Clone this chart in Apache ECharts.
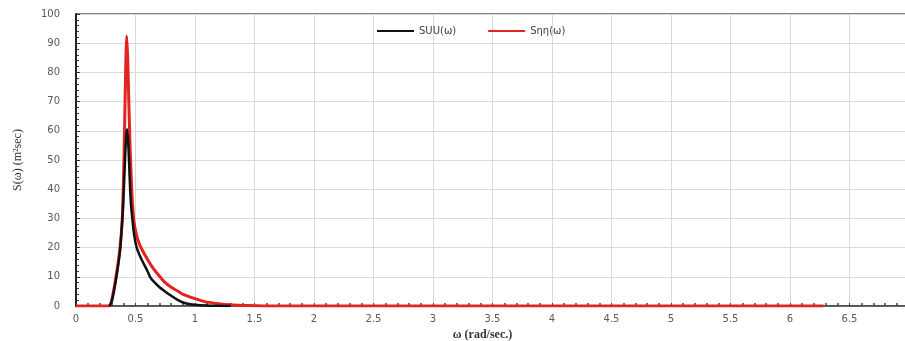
<!DOCTYPE html>
<html>
<head>
<meta charset="utf-8">
<script src="https://cdn.jsdelivr.net/npm/echarts@6/dist/echarts.min.js"></script>
<style>
  html, body { margin: 0; padding: 0; background: #fff; }
  #chart { width: 905px; height: 341px; }
</style>
</head>
<body>
<div id="chart"></div>
<script>
// Spectral densities S(ω) against angular frequency ω (rad/sec.)
const omegaSuu = [0.28, 0.30, 0.336, 0.37, 0.39, 0.40, 0.41, 0.42, 0.43, 0.44, 0.45, 0.46, 0.473, 0.49, 0.51, 0.55, 0.60, 0.622, 0.65, 0.70, 0.748, 0.80, 0.85, 0.90, 0.95, 1.00, 1.10, 1.20, 1.30];
const valuesSuu = [0, 1.5, 9, 19, 30, 38, 48, 57, 60.5, 55, 45, 36, 30, 24, 20, 16, 12, 10, 8.5, 6.5, 5, 3.5, 2.2, 1.2, 0.7, 0.4, 0.15, 0.05, 0];

const omegaSnn = [0, 0.28, 0.30, 0.336, 0.37, 0.389, 0.40, 0.41, 0.42, 0.426, 0.435, 0.445, 0.455, 0.465, 0.475, 0.487, 0.51, 0.53, 0.552, 0.60, 0.65, 0.706, 0.75, 0.80, 0.86, 0.90, 1.00, 1.08, 1.20, 1.30, 1.40, 1.50, 1.60, 2.00, 3.00, 4.00, 5.00, 6.00, 6.28];
const valuesSnn = [0, 0, 2, 10, 20, 30, 45, 65, 86, 92.5, 84, 68, 54, 43, 35, 29, 24, 21.5, 19.5, 16, 12.8, 10, 8, 6.4, 5, 4, 2.5, 1.5, 0.8, 0.4, 0.2, 0.1, 0, 0, 0, 0, 0, 0, 0];

const xTicks = { min: 0, max: 7, step: 0.5 };
const yTicks = { min: 0, max: 100, step: 10 };

const seriesNames = ['SUU(ω)', 'Sηη(ω)'];

function pairs(xs, ys) {
  return xs.map((x, i) => [x, ys[i]]);
}

const chart = echarts.init(document.getElementById('chart'), null, { renderer: 'canvas' });

const labelFont = { color: '#595959', fontFamily: 'DejaVu Sans', fontSize: 10 };

chart.setOption({
  backgroundColor: '#ffffff',
  animation: false,
  grid: {
    left: 76,
    top: 14,
    bottom: 35,
    width: 833,
    outerBoundsMode: 'none',
    containLabel: false,
    show: true,
    borderColor: '#555555',
    borderWidth: 1.5,
    backgroundColor: 'transparent'
  },
  legend: {
    left: 372,
    top: 21,
    icon: 'rect',
    itemWidth: 37,
    itemHeight: 2,
    itemGap: 32,
    textStyle: { color: '#404040', fontFamily: 'DejaVu Sans', fontSize: 10 },
    data: seriesNames
  },
  xAxis: {
    type: 'value',
    min: xTicks.min,
    max: xTicks.max,
    interval: xTicks.step,
    name: 'ω (rad/sec.)',
    nameLocation: 'middle',
    nameGap: 15,
    nameTextStyle: {
      fontFamily: 'Liberation Serif',
      fontWeight: 'bold',
      fontSize: 12,
      color: '#333333',
      padding: [0, 20, 0, 0]
    },
    axisLine: { show: true, lineStyle: { color: '#404040', width: 1.5 } },
    axisTick: { show: true, inside: true, length: 3, lineStyle: { color: '#404040' } },
    minorTick: { show: true, splitNumber: 5, length: 3, lineStyle: { color: '#404040', width: 1.5 } },
    axisLabel: Object.assign({ margin: 8, showMaxLabel: false }, labelFont),
    splitLine: { show: true, lineStyle: { color: '#d9d9d9', width: 1 } }
  },
  yAxis: {
    type: 'value',
    min: yTicks.min,
    max: yTicks.max,
    interval: yTicks.step,
    name: 'S(ω) (m²sec)',
    nameLocation: 'middle',
    nameGap: 52,
    nameRotate: 90,
    nameTextStyle: {
      fontFamily: 'Liberation Serif',
      fontSize: 12,
      color: '#333333'
    },
    axisLine: { show: true, lineStyle: { color: '#222222', width: 2 } },
    axisTick: { show: true, inside: true, length: 4, lineStyle: { color: '#333333' } },
    minorTick: { show: true, splitNumber: 5, length: 3, lineStyle: { color: '#333333' } },
    axisLabel: Object.assign({ margin: 16 }, labelFont),
    splitLine: { show: true, lineStyle: { color: '#d9d9d9', width: 1 } }
  },
  series: [
    {
      name: seriesNames[1],
      type: 'line',
      data: pairs(omegaSnn, valuesSnn),
      symbol: 'none',
      smooth: 0.25,
      lineStyle: { color: '#e32222', width: 3 },
      itemStyle: { color: '#e32222' },
      z: 2
    },
    {
      name: seriesNames[0],
      type: 'line',
      data: pairs(omegaSuu, valuesSuu),
      symbol: 'none',
      smooth: 0.25,
      lineStyle: { color: '#111111', width: 2.5 },
      itemStyle: { color: '#111111' },
      z: 3
    }
  ]
});
</script>
</body>
</html>
